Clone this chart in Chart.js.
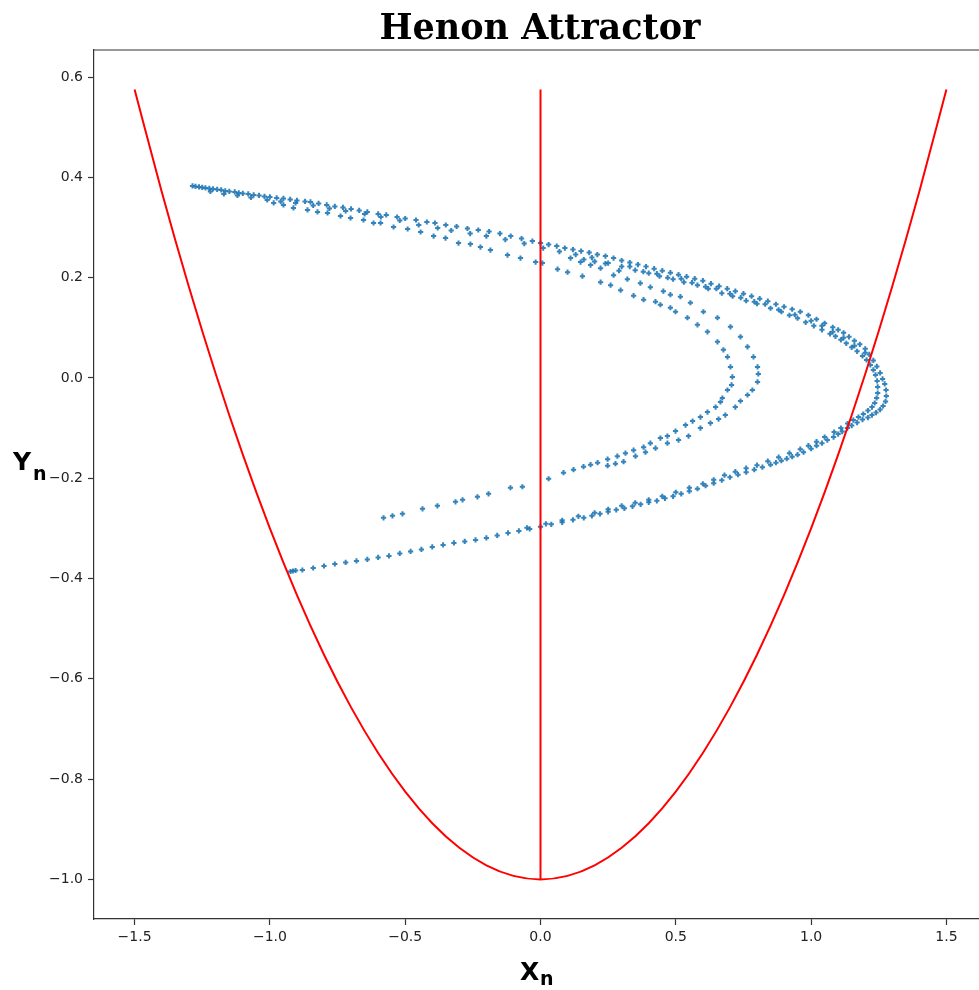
<!DOCTYPE html>
<html>
<head>
<meta charset="utf-8">
<title>Henon Attractor</title>
<script src="https://cdn.jsdelivr.net/npm/chart.js@4.4.1/dist/chart.umd.min.js"></script>
<style>
  html, body { margin: 0; padding: 0; background: #fff; overflow: hidden; }
  #wrap { width: 1000px; height: 990px; }
</style>
</head>
<body>
<div id="wrap"><canvas id="henonChart" width="1000" height="990"></canvas></div>
<script>
// axis ticks
const xTicks = [-1.5, -1.0, -0.5, 0.0, 0.5, 1.0, 1.5];
const yTicks = [-1.0, -0.8, -0.6, -0.4, -0.2, 0.0, 0.2, 0.4, 0.6];

// red parabola and the vertical line at x = 0
const parabola = [
  [-1.5, 0.575], [-1.4, 0.372], [-1.3, 0.183], [-1.2, 0.008], [-1.1, -0.153], [-1.0, -0.300],
  [-0.9, -0.433], [-0.8, -0.552], [-0.7, -0.657], [-0.6, -0.748], [-0.5, -0.825], [-0.4, -0.888],
  [-0.3, -0.937], [-0.2, -0.972], [-0.1, -0.993], [0.0, -1.0], [0.1, -0.993], [0.2, -0.972],
  [0.3, -0.937], [0.4, -0.888], [0.5, -0.825], [0.6, -0.748], [0.7, -0.657], [0.8, -0.552],
  [0.9, -0.433], [1.0, -0.300], [1.1, -0.153], [1.2, 0.008], [1.3, 0.183], [1.4, 0.372], [1.5, 0.575]
];
const zeroLine = [[0, -1.0], [0, 0.575]];

// attractor: outer top strand running round the tip
const outerTop = [
  [-1.286,0.383],[-1.275,0.382],[-1.262,0.381],[-1.25,0.380],[-1.238,0.379],[-1.224,0.378],[-1.21,0.377],
  [-1.195,0.376],[-1.18,0.375],[-1.165,0.373],[-1.15,0.372],[-1.13,0.371],[-1.115,0.369],[-1.1,0.368],
  [-1.08,0.367],[-1.06,0.365],[-1.04,0.364],[-1.02,0.362],[-1.0,0.361],[-0.975,0.359],[-0.95,0.358],
  [-0.925,0.356],[-0.9,0.354],[-0.87,0.352],[-0.85,0.351],[-0.82,0.348],[-0.79,0.345],[-0.76,0.342],
  [-0.73,0.340],[-0.7,0.337],[-0.67,0.334],[-0.64,0.331],[-0.6,0.327],[-0.57,0.325],[-0.53,0.321],
  [-0.5,0.318],[-0.46,0.315],[-0.42,0.311],[-0.39,0.309],[-0.35,0.305],[-0.31,0.302],[-0.27,0.298],
  [-0.23,0.295],[-0.19,0.292],[-0.15,0.288],[-0.11,0.283],[-0.07,0.278],[-0.03,0.273],[0.0,0.269],
  [0.03,0.266],[0.06,0.263],[0.09,0.259],[0.12,0.256],[0.15,0.253],[0.18,0.250],[0.21,0.246],
  [0.24,0.243],[0.27,0.239],[0.3,0.234],[0.33,0.230],[0.36,0.226],[0.39,0.222],[0.42,0.218],
  [0.45,0.214],[0.48,0.210],[0.51,0.206],[0.54,0.202],[0.57,0.198],[0.6,0.194],[0.63,0.188],
  [0.66,0.183],[0.69,0.178],[0.72,0.173],[0.75,0.168],[0.78,0.163],[0.81,0.158],[0.84,0.153],
  [0.87,0.147],[0.9,0.142],[0.93,0.137],[0.96,0.132],[0.99,0.125],[1.02,0.117],[1.05,0.109],
  [1.08,0.101],[1.1,0.096],[1.12,0.090],[1.14,0.082],[1.16,0.074],[1.18,0.067],[1.2,0.058],
  [1.215,0.047],[1.23,0.035],[1.243,0.023],[1.255,0.010],[1.264,-0.002],[1.272,-0.012],[1.277,-0.024],
  [1.278,-0.036],[1.275,-0.047],[1.266,-0.056],[1.255,-0.063],[1.24,-0.069],[1.225,-0.074],[1.21,-0.079]
];

// outer bottom strand back to the lower left end
const outerBottom = [
  [1.19,-0.083],[1.17,-0.089],[1.15,-0.095],[1.134,-0.100],[1.115,-0.107],[1.1,-0.112],[1.083,-0.118],
  [1.06,-0.124],[1.04,-0.130],[1.02,-0.135],[1.0,-0.141],[0.972,-0.148],[0.95,-0.153],[0.93,-0.157],
  [0.91,-0.161],[0.89,-0.165],[0.87,-0.169],[0.85,-0.173],[0.82,-0.178],[0.79,-0.183],[0.76,-0.188],
  [0.73,-0.193],[0.70,-0.198],[0.67,-0.204],[0.64,-0.210],[0.61,-0.215],[0.58,-0.221],[0.55,-0.226],
  [0.52,-0.231],[0.49,-0.236],[0.46,-0.240],[0.43,-0.245],[0.40,-0.248],[0.37,-0.252],[0.34,-0.256],
  [0.31,-0.260],[0.28,-0.263],[0.25,-0.267],[0.22,-0.271],[0.19,-0.275],[0.16,-0.279],[0.12,-0.283],
  [0.08,-0.288],[0.04,-0.292],[0.0,-0.297],[-0.04,-0.301],[-0.08,-0.305],[-0.12,-0.309],[-0.16,-0.314],
  [-0.2,-0.319],[-0.24,-0.323],[-0.28,-0.326],[-0.32,-0.329],[-0.36,-0.333],[-0.4,-0.337],[-0.44,-0.342],
  [-0.48,-0.346],[-0.52,-0.350],[-0.56,-0.355],[-0.6,-0.358],[-0.64,-0.362],[-0.68,-0.365],[-0.72,-0.368],
  [-0.76,-0.371],[-0.8,-0.375],[-0.84,-0.379],[-0.88,-0.383],[-0.905,-0.384],[-0.915,-0.385],[-0.924,-0.386]
];

// second line of the band, inner tip and lower return
const innerBand = [
  [-1.22,0.372],[-1.17,0.367],[-1.12,0.364],[-1.07,0.360],[-1.01,0.355],[-0.96,0.352],[-0.905,0.349],
  [-0.84,0.344],[-0.78,0.338],[-0.72,0.333],[-0.65,0.327],[-0.59,0.321],[-0.52,0.314],[-0.45,0.305],
  [-0.38,0.299],[-0.33,0.294],[-0.26,0.288],[-0.2,0.283],[-0.13,0.276],[-0.06,0.268],[0.01,0.259],
  [0.07,0.252],[0.13,0.246],[0.19,0.240],[0.25,0.229],[0.3,0.222],[0.35,0.215],[0.4,0.209],
  [0.44,0.203],[0.49,0.197],[0.53,0.191],[0.58,0.185],[0.62,0.178],[0.67,0.169],[0.71,0.163],
  [0.76,0.154],[0.8,0.148],[0.85,0.139],[0.89,0.132],[0.92,0.125],[0.95,0.119],[0.98,0.111],
  [1.01,0.104],[1.04,0.096],[1.07,0.088],[1.09,0.083],[1.11,0.076],[1.13,0.069],[1.15,0.061],
  [1.17,0.053],[1.19,0.044],[1.205,0.036],[1.219,0.026],[1.23,0.016],[1.238,0.006],[1.244,-0.006],
  [1.246,-0.018],[1.246,-0.030],[1.242,-0.040],[1.235,-0.050],[1.225,-0.058],[1.21,-0.065],
  [1.193,-0.072],[1.175,-0.078],[1.156,-0.084],[1.135,-0.091],[1.11,-0.100],[1.085,-0.108],
  [1.05,-0.118],[1.02,-0.127],[0.99,-0.135],[0.96,-0.142],[0.92,-0.150],[0.88,-0.158],[0.84,-0.166],
  [0.80,-0.174],[0.76,-0.180],[0.72,-0.187],[0.68,-0.194],[0.64,-0.203],[0.6,-0.211],[0.55,-0.219],
  [0.5,-0.228],[0.45,-0.236],[0.4,-0.243],[0.35,-0.249],[0.3,-0.255],[0.25,-0.262],[0.2,-0.269],
  [0.14,-0.276],[0.08,-0.284],[0.02,-0.291],[-0.05,-0.299]
];

// loose points inside the upper band
const bandSpread = [
  [0.16,0.236],[0.2,0.232],[0.24,0.228],[0.29,0.214],[0.33,0.222],[0.38,0.212],[0.43,0.208],
  [0.47,0.200],[0.52,0.198],[0.56,0.190],[0.61,0.182],[0.65,0.178],[0.7,0.168],[0.74,0.160],
  [0.79,0.152],[0.83,0.147],[0.88,0.136],[0.94,0.126],[1.0,0.114],[1.04,0.104],[1.08,0.092],
  [1.12,0.080],[1.16,0.064],[1.2,0.050]
];

// innermost fold: upper-left strand, tip near x = 0.71, middle strand to the left
const innerFold = [
  [-0.986,0.349],[-0.950,0.345],[-0.913,0.339],[-0.861,0.335],[-0.824,0.331],[-0.787,0.329],
  [-0.739,0.323],[-0.702,0.319],[-0.654,0.315],[-0.617,0.309],[-0.591,0.309],[-0.543,0.301],
  [-0.491,0.297],[-0.443,0.291],[-0.395,0.283],[-0.351,0.279],[-0.303,0.269],[-0.259,0.267],
  [-0.222,0.261],[-0.185,0.255],[-0.122,0.245],[-0.074,0.239],[-0.018,0.231],[0.007,0.229],
  [0.063,0.217],[0.100,0.211],[0.155,0.203],[0.222,0.191],[0.259,0.185],[0.296,0.175],
  [0.344,0.164],[0.381,0.156],[0.425,0.152],[0.443,0.146],[0.480,0.140],[0.499,0.132],
  [0.543,0.120],[0.580,0.106],[0.617,0.092],[0.654,0.072],[0.676,0.056],[0.691,0.042],
  [0.702,0.022],[0.709,0.002],[0.706,-0.014],[0.691,-0.024],[0.672,-0.040],[0.665,-0.048],
  [0.647,-0.058],[0.617,-0.068],[0.591,-0.078],[0.562,-0.086],[0.536,-0.094],[0.499,-0.106],
  [0.469,-0.116],[0.443,-0.120],[0.406,-0.130],[0.381,-0.138],[0.344,-0.144],[0.314,-0.150],
  [0.284,-0.156],[0.248,-0.162],[0.211,-0.169],[0.185,-0.173],[0.159,-0.177],[0.122,-0.183],
  [0.085,-0.189],[0.030,-0.201],[-0.067,-0.217],[-0.111,-0.219],[-0.192,-0.231],[-0.233,-0.237],
  [-0.288,-0.243],[-0.314,-0.247],[-0.381,-0.255],[-0.436,-0.261],[-0.510,-0.271],[-0.547,-0.275],
  [-0.580,-0.279]
];

// second inner fold, tip near x = 0.80
const middleFold = [
  [0.111,0.239],[0.148,0.231],[0.185,0.225],[0.222,0.219],[0.270,0.205],[0.321,0.197],[0.369,0.189],
  [0.406,0.181],[0.454,0.173],[0.480,0.166],[0.517,0.162],[0.554,0.150],[0.602,0.132],[0.654,0.120],
  [0.702,0.102],[0.739,0.082],[0.765,0.062],[0.787,0.042],[0.802,0.022],[0.805,0.008],[0.802,-0.008],
  [0.783,-0.024],[0.765,-0.034],[0.739,-0.046],[0.720,-0.058],[0.683,-0.074],[0.658,-0.082],
  [0.628,-0.090],[0.591,-0.100],[0.547,-0.116],[0.510,-0.124],[0.469,-0.130],[0.425,-0.140],
  [0.388,-0.148],[0.351,-0.156],[0.307,-0.167],[0.277,-0.171],[0.248,-0.175]
];

const strands = [outerTop, outerBottom, innerBand, bandSpread, innerFold, middleFold];

const toXY = pts => pts.map(p => ({ x: p[0], y: p[1] }));
const fmt = v => v.toFixed(1).replace('-', '\u2212');

// frame on top/right, title and the two axis labels with subscripts
const labelsPlugin = {
    id: 'labelsPlugin',
    afterDraw(chart) {
        const ctx = chart.ctx;
        const a = chart.chartArea;
        ctx.save();
        ctx.strokeStyle = '#333';
        ctx.lineWidth = 1.2;
        ctx.beginPath();
        ctx.moveTo(a.left, a.top);
        ctx.lineTo(a.right, a.top);
        ctx.lineTo(a.right, a.bottom);
        ctx.stroke();

        ctx.fillStyle = '#000';
        ctx.textAlign = 'center';
        ctx.textBaseline = 'alphabetic';
        ctx.font = 'bold 35px "DejaVu Serif"';
        ctx.fillText('Henon Attractor', 540, 39);

        ctx.textAlign = 'left';
        ctx.font = 'bold 25px "DejaVu Sans"';
        ctx.fillText('X', 520, 980);
        ctx.fillText('Y', 13, 470);
        ctx.font = 'bold 19px "DejaVu Sans"';
        ctx.fillText('n', 540, 985);
        ctx.fillText('n', 33, 480);
        ctx.restore();
    }
};

new Chart(document.getElementById('henonChart'), {
    type: 'scatter',
    data: {
        datasets: [
            {
                data: toXY(parabola),
                showLine: true,
                borderColor: '#ff0000',
                borderWidth: 2,
                pointRadius: 0,
                cubicInterpolationMode: 'monotone',
                order: 0
            },
            {
                data: toXY(zeroLine),
                showLine: true,
                borderColor: '#ff0000',
                borderWidth: 2,
                pointRadius: 0,
                order: 0
            },
            ...strands.map(s => ({
                data: toXY(s),
                pointStyle: 'cross',
                pointRadius: 2.6,
                pointBorderWidth: 2,
                borderColor: 'rgba(31, 119, 180, 0.9)',
                backgroundColor: 'rgba(31, 119, 180, 0.9)',
                order: 1
            }))
        ]
    },
    options: {
        responsive: false,
        animation: false,
        events: [],
        layout: { padding: { left: 0, top: 50, right: 13, bottom: 0 } },
        plugins: {
            legend: { display: false },
            tooltip: { enabled: false }
        },
        scales: {
            x: {
                type: 'linear',
                min: -1.65,
                max: 1.65,
                afterBuildTicks: s => { s.ticks = xTicks.map(v => ({ value: v })); },
                afterFit: s => { s.height = 71; },
                ticks: {
                    callback: v => fmt(v),
                    font: { family: 'DejaVu Sans', size: 14 },
                    color: '#222',
                    padding: 4,
                    maxRotation: 0
                },
                grid: { drawOnChartArea: false, tickLength: 6, color: '#333', tickWidth: 1.2 },
                border: { color: '#333', width: 1.2 }
            },
            y: {
                type: 'linear',
                min: -1.079,
                max: 0.654,
                afterBuildTicks: s => { s.ticks = yTicks.map(v => ({ value: v })); },
                afterFit: s => { s.width = 94; },
                ticks: {
                    callback: v => fmt(v),
                    font: { family: 'DejaVu Sans', size: 14 },
                    color: '#222',
                    padding: 5
                },
                grid: { drawOnChartArea: false, tickLength: 6, color: '#333', tickWidth: 1.2 },
                border: { color: '#333', width: 1.2 }
            }
        }
    },
    plugins: [labelsPlugin]
});
</script>
</body>
</html>
